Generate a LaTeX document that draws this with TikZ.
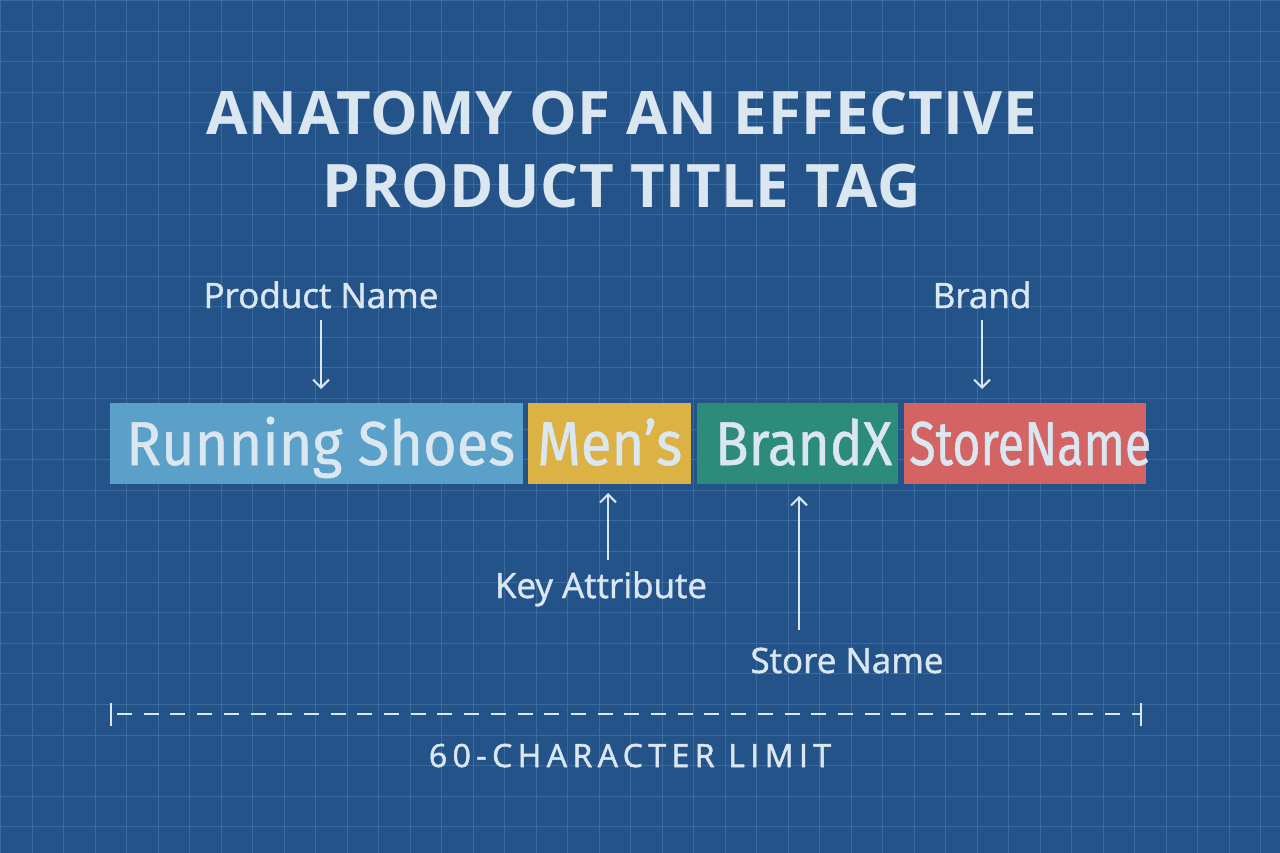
\documentclass[tikz,border=0pt]{standalone}
\usepackage{fontspec}
\usepackage{graphicx}
\setmainfont{Open Sans}[FakeBold=1.3]
\newfontfamily\titlefont[LetterSpace=1]{Open Sans Bold}
\newfontfamily\capsfont[LetterSpace=17,FakeBold=1.6]{Open Sans}
\newfontfamily\segfont[FakeBold=0.8]{Fira Sans}
\newcommand{\fitw}[2]{\resizebox{#1}{\height}{#2}}
\usetikzlibrary{arrows.meta}
\definecolor{bg}{HTML}{24538A}
\definecolor{gridc}{HTML}{3A6B9E}
\definecolor{ink}{HTML}{DBE7F0}
\definecolor{cblue}{HTML}{5AA0C8}
\definecolor{cyellow}{HTML}{DCB244}
\definecolor{cgreen}{HTML}{2D8C79}
\definecolor{cred}{HTML}{D46464}
\tikzset{
  title/.style={text=ink, inner sep=0pt, font=\titlefont\fontsize{60}{60}\selectfont},
  lab/.style={text=ink, inner sep=0pt, font=\fontsize{35}{35}\selectfont},
  boxtext/.style={text=ink, inner sep=0pt, anchor=base west, font=\segfont\fontsize{62}{62}\selectfont},
  seg/.style={draw=none, inner sep=0pt, anchor=north west},
  arr/.style={draw=ink, line width=2pt, -{Straight Barb[length=8pt,width=16pt,line width=2pt]}},
  limitline/.style={draw=ink, line width=2.5pt, dash pattern=on 15pt off 11.7pt},
  tick/.style={draw=ink, line width=2.5pt}
}
\begin{document}
\begin{tikzpicture}[x=1pt,y=-1pt]
\fill[bg] (0,0) rectangle (1280,853);
\useasboundingbox (0,0) rectangle (1280,853);
\foreach \i in {0,...,41} {
  \draw[gridc, line width=0.8pt] (0.5+31.5*\i,0) -- (0.5+31.5*\i,853);
}
\foreach \i in {0,...,27} {
  \draw[gridc, line width=0.8pt] (0,0.5+30.6*\i) -- (1280,0.5+30.6*\i);
}
% title
\node[title, anchor=base] (t1) at (622,135) {ANATOMY OF AN EFFECTIVE};
\node[title, anchor=base] (t2) at (622,208) {PRODUCT TITLE TAG};
% segments
\node[seg, fill=cblue, minimum width=413pt, minimum height=81pt] (b1) at (110,403) {};
\node[seg, fill=cyellow, minimum width=163pt, minimum height=81pt] (b2) at (528,403) {};
\node[seg, fill=cgreen, minimum width=201pt, minimum height=81pt] (b3) at (697,403) {};
\node[seg, fill=cred, minimum width=242pt, minimum height=81pt] (b4) at (904,403) {};
\node[boxtext] (w1) at (126,465) {\fitw{389pt}{Running Shoes}};
\node[boxtext] (w2) at (537,465) {\fitw{145pt}{Men’s}};
\node[boxtext] (w3) at (715,465) {\fitw{177pt}{BrandX}};
\node[boxtext] (w4) at (909,465) {\fitw{242pt}{StoreName}};
% labels
\node[lab, anchor=base] (pn) at (321,308) {Product Name};
\node[lab, anchor=base] (br) at (982,308) {Brand};
\node[lab, anchor=base] (ka) at (601,598) {Key Attribute};
\node[lab, anchor=base] (sn) at (847,673) {Store Name};
\coordinate (pnA) at (321,320);
\coordinate (brA) at (982,320);
\coordinate (kaA) at (608,560);
\coordinate (snA) at (799,630);
\draw[arr] (pnA) -- (pnA |- 0,389);
\draw[arr] (brA) -- (brA |- 0,389);
\draw[arr] (kaA) -- (kaA |- 0,493);
\draw[arr] (snA) -- (snA |- 0,496);
% limit
\coordinate (lL) at (111,714);
\coordinate (lR) at (1141,714);
\draw[tick] (111,703) -- (111,726);
\draw[tick] (1141,703) -- (1141,726);
\draw[limitline] (lL) ++(6,0) -- (lR);
\node[text=ink, inner sep=0pt, anchor=base, font=\capsfont\fontsize{32}{32}\selectfont] (lim) at (630,767) {60-CHARACTER LIMIT};
\end{tikzpicture}
\end{document}
